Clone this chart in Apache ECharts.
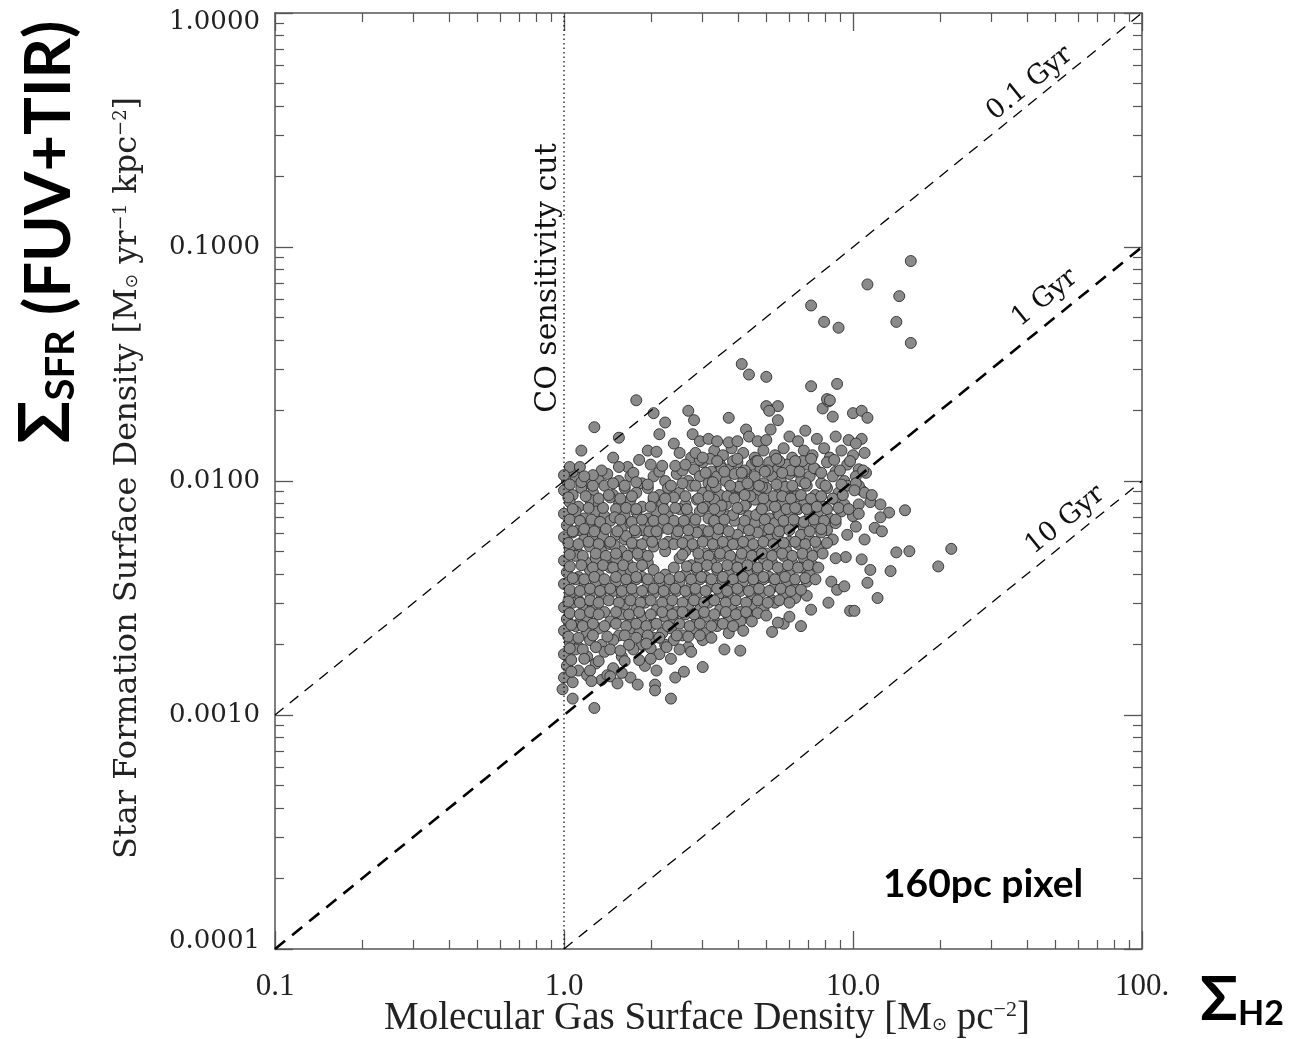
<!DOCTYPE html>
<html>
<head>
<meta charset="utf-8">
<script src="https://cdn.jsdelivr.net/npm/echarts@6/dist/echarts.min.js"></script>
<style>
  html, body { margin: 0; padding: 0; background: #fff; }
  #main { width: 1290px; height: 1039px; }
</style>
</head>
<body>
<div id="main"></div>
<script>
// pixels, stored as [log10 gas, log10 SFR]
const outliers = [
  [1.20,-1.06],[1.05,-1.16],[1.16,-1.21],[1.15,-1.32],[1.20,-1.41],[0.855,-1.25],[0.90,-1.32],[0.95,-1.345],
  [0.615,-1.50],[0.64,-1.545],[0.70,-1.555],[0.855,-1.595],[0.945,-1.585],[0.91,-1.65],[0.92,-1.655],[0.25,-1.655]
];
const edges = [
  [0.31,-1.71],[0.43,-1.70],[0.45,-1.74],[0.35,-1.75],[0.57,-1.73],[0.105,-1.77],[0.33,-1.80],[0.38,-1.84],
  [0.19,-1.815],[0.445,-1.80],[0.47,-1.83],[0.50,-1.82],[0.53,-1.83],[0.57,-1.835],[0.60,-1.83],[0.63,-1.78],
  [0.64,-1.81],[0.06,-1.87],[0.02,-1.94],[0.055,-1.94],[0.0,-1.975],[0.17,-1.90],[0.19,-1.94],[0.29,-1.87],
  [0.32,-1.875],[0.26,-1.91],[0.455,-1.88],[0.48,-1.90],[0.34,-1.935],[0.385,-1.935],[0.42,-1.93],[0.10,-1.975],
  [0.07,-1.98],
  [0.70,-1.68],[0.74,-1.68],[0.71,-1.70],[0.895,-1.69],[0.915,-1.66],[0.93,-1.725],[1.0,-1.71],[1.03,-1.70],
  [1.05,-1.73],[0.74,-1.74],[0.715,-1.78],[0.835,-1.785],[0.78,-1.81],[0.81,-1.83],[0.875,-1.82],[0.94,-1.81],
  [0.985,-1.825],[1.03,-1.82],[1.01,-1.84],[0.67,-1.83],[0.70,-1.825],[1.035,-1.955],[1.04,-2.05],[1.065,-2.06],
  [1.01,-2.01],[1.005,-2.04],[1.095,-2.10],[1.125,-2.135],[1.095,-2.155],[1.18,-2.125],[1.02,-2.10],[1.02,-2.14],
  [1.075,-2.20],[1.10,-2.215],[1.01,-2.195],[0.98,-2.23],[1.04,-2.25],[1.15,-2.305],[1.195,-2.30],[1.34,-2.29],
  [1.295,-2.365],[1.06,-2.38],[1.13,-2.385],[1.03,-2.335],[0.975,-2.325],[0.94,-2.33],[1.05,-2.435],[1.085,-2.50],
  [0.925,-2.43],[0.945,-2.465],[0.97,-2.45],[0.99,-2.555],[1.005,-2.555],[0.915,-2.52],[0.855,-2.55],[0.82,-2.62],
  [0.72,-2.645],[0.76,-2.61],[0.74,-2.605],[0.70,-2.575],[0.78,-2.58],[0.65,-2.60],
  [-0.005,-2.89],[0.03,-2.93],[0.105,-2.97],[0.095,-2.855],[0.15,-2.83],[0.16,-2.835],[0.185,-2.865],[0.255,-2.87],
  [0.315,-2.87],[0.315,-2.895],[0.37,-2.93],[0.385,-2.84],[0.415,-2.815],[0.48,-2.795],[0.61,-2.725],[0.555,-2.72],
  [0.195,-2.725],[0.225,-2.70],[0.285,-2.695]
];
const cloud = [
  [0.40,-1.88],[0.44,-1.90],[0.52,-1.87],[0.55,-1.89],[0.58,-1.86],[0.62,-1.88],[0.66,-1.90],[0.69,-1.87],[0.73,-1.89],[0.76,-1.86],[0.79,-1.90],[0.83,-1.87],[0.86,-1.89],[0.90,-1.86],[0.92,-1.90],[0.96,-1.87],[1.0,-1.89],[1.04,-1.88],
  [0.22,-1.94],[0.30,-1.93],[0.45,-1.95],[0.48,-1.92],[0.51,-1.96],[0.54,-1.93],[0.57,-1.95],[0.60,-1.92],[0.63,-1.96],[0.65,-1.93],[0.68,-1.95],[0.71,-1.92],[0.74,-1.95],[0.77,-1.93],[0.80,-1.96],[0.84,-1.93],[0.87,-1.95],[0.91,-1.92],[0.94,-1.96],[0.98,-1.93],[1.02,-1.95],
  [0.01,-2.00],[0.04,-1.98],[0.08,-2.01],[0.12,-1.99],[0.15,-1.97],[0.19,-2.00],[0.23,-1.98],[0.27,-2.01],[0.31,-1.98],[0.35,-2.00],[0.39,-1.97],[0.43,-2.00],[0.47,-1.98],[0.50,-2.01],[0.53,-1.98],[0.56,-2.00],[0.59,-1.97],[0.62,-2.00],[0.66,-1.98],[0.69,-2.01],[0.72,-1.98],[0.75,-2.00],[0.78,-1.97],[0.82,-2.00],[0.85,-1.98],[0.89,-2.01],[0.93,-1.98],[0.97,-2.00],[1.01,-1.98],
  [0.0,-2.04],[0.03,-2.06],[0.06,-2.03],[0.10,-2.05],[0.14,-2.02],[0.17,-2.06],[0.21,-2.03],[0.25,-2.05],[0.29,-2.03],[0.33,-2.06],[0.36,-2.03],[0.40,-2.05],[0.44,-2.02],[0.48,-2.05],[0.51,-2.03],[0.54,-2.06],[0.58,-2.03],[0.61,-2.05],[0.64,-2.02],[0.67,-2.05],[0.70,-2.03],[0.74,-2.06],[0.77,-2.03],[0.80,-2.05],[0.84,-2.02],[0.87,-2.06],[0.91,-2.03],[0.95,-2.05],[0.98,-2.02],[1.03,-2.04],
  [0.02,-2.09],[0.05,-2.11],[0.09,-2.08],[0.12,-2.10],[0.16,-2.07],[0.19,-2.10],[0.23,-2.08],[0.27,-2.11],[0.31,-2.08],[0.34,-2.10],[0.38,-2.07],[0.42,-2.10],[0.46,-2.08],[0.49,-2.11],[0.52,-2.08],[0.56,-2.10],[0.59,-2.07],[0.63,-2.10],[0.66,-2.08],[0.69,-2.11],[0.72,-2.08],[0.76,-2.10],[0.79,-2.07],[0.83,-2.10],[0.86,-2.08],[0.90,-2.11],[0.94,-2.08],[0.97,-2.10],[1.06,-2.09],
  [0.0,-2.14],[0.04,-2.13],[0.07,-2.16],[0.11,-2.13],[0.14,-2.15],[0.18,-2.12],[0.21,-2.15],[0.25,-2.13],[0.29,-2.16],[0.32,-2.13],[0.36,-2.15],[0.40,-2.12],[0.43,-2.15],[0.47,-2.13],[0.50,-2.16],[0.54,-2.13],[0.57,-2.15],[0.61,-2.12],[0.64,-2.15],[0.68,-2.13],[0.71,-2.16],[0.74,-2.13],[0.78,-2.15],[0.81,-2.12],[0.85,-2.15],[0.88,-2.13],[0.92,-2.16],[0.96,-2.13],[1.0,-2.15],
  [0.01,-2.19],[0.05,-2.21],[0.09,-2.18],[0.12,-2.20],[0.16,-2.17],[0.20,-2.20],[0.23,-2.18],[0.27,-2.21],[0.30,-2.18],[0.34,-2.20],[0.38,-2.17],[0.41,-2.20],[0.45,-2.18],[0.48,-2.21],[0.52,-2.18],[0.55,-2.20],[0.59,-2.17],[0.62,-2.20],[0.66,-2.18],[0.69,-2.21],[0.73,-2.18],[0.76,-2.20],[0.80,-2.17],[0.83,-2.20],[0.87,-2.18],[0.91,-2.21],[0.94,-2.18],
  [0.0,-2.24],[0.03,-2.22],[0.07,-2.25],[0.10,-2.23],[0.14,-2.26],[0.18,-2.23],[0.21,-2.25],[0.25,-2.22],[0.29,-2.25],[0.32,-2.23],[0.36,-2.26],[0.39,-2.23],[0.43,-2.25],[0.46,-2.22],[0.50,-2.25],[0.53,-2.23],[0.57,-2.26],[0.60,-2.23],[0.64,-2.25],[0.67,-2.22],[0.71,-2.25],[0.74,-2.23],[0.78,-2.26],[0.82,-2.23],[0.85,-2.25],[0.89,-2.22],[0.93,-2.25],
  [0.02,-2.29],[0.05,-2.31],[0.09,-2.28],[0.13,-2.30],[0.16,-2.27],[0.20,-2.30],[0.24,-2.28],[0.27,-2.31],[0.31,-2.28],[0.35,-2.30],[0.38,-2.27],[0.42,-2.30],[0.45,-2.28],[0.49,-2.31],[0.52,-2.28],[0.56,-2.30],[0.60,-2.27],[0.63,-2.30],[0.67,-2.28],[0.70,-2.31],[0.74,-2.28],[0.77,-2.30],[0.81,-2.27],[0.84,-2.30],[0.88,-2.28],
  [0.0,-2.34],[0.04,-2.32],[0.08,-2.35],[0.11,-2.33],[0.15,-2.36],[0.18,-2.33],[0.22,-2.35],[0.26,-2.32],[0.29,-2.35],[0.40,-2.33],[0.44,-2.36],[0.47,-2.33],[0.51,-2.35],[0.54,-2.32],[0.58,-2.35],[0.61,-2.33],[0.65,-2.36],[0.69,-2.33],[0.72,-2.35],[0.76,-2.32],[0.79,-2.35],[0.83,-2.33],[0.86,-2.36],
  [0.01,-2.39],[0.05,-2.41],[0.09,-2.38],[0.12,-2.40],[0.16,-2.37],[0.20,-2.40],[0.23,-2.38],[0.27,-2.41],[0.31,-2.38],[0.35,-2.40],[0.38,-2.37],[0.42,-2.40],[0.46,-2.38],[0.49,-2.41],[0.53,-2.38],[0.57,-2.40],[0.60,-2.37],[0.64,-2.40],[0.67,-2.38],[0.71,-2.41],[0.75,-2.38],[0.78,-2.40],[0.82,-2.37],[0.85,-2.40],
  [0.0,-2.44],[0.04,-2.42],[0.07,-2.45],[0.11,-2.43],[0.14,-2.46],[0.18,-2.43],[0.22,-2.45],[0.25,-2.42],[0.29,-2.45],[0.33,-2.43],[0.36,-2.46],[0.40,-2.43],[0.44,-2.45],[0.47,-2.42],[0.51,-2.45],[0.55,-2.43],[0.58,-2.46],[0.62,-2.43],[0.66,-2.45],[0.69,-2.42],[0.73,-2.45],[0.77,-2.43],[0.80,-2.46],[0.84,-2.43],
  [0.02,-2.49],[0.05,-2.51],[0.09,-2.48],[0.13,-2.50],[0.17,-2.47],[0.20,-2.50],[0.24,-2.48],[0.28,-2.51],[0.31,-2.48],[0.35,-2.50],[0.39,-2.47],[0.43,-2.50],[0.46,-2.48],[0.50,-2.51],[0.54,-2.48],[0.57,-2.50],[0.61,-2.47],[0.65,-2.50],[0.68,-2.48],[0.72,-2.51],[0.76,-2.48],[0.80,-2.50],[0.84,-2.49],
  [0.0,-2.54],[0.03,-2.52],[0.07,-2.55],[0.10,-2.53],[0.14,-2.56],[0.21,-2.53],[0.25,-2.55],[0.28,-2.52],[0.32,-2.55],[0.36,-2.53],[0.39,-2.56],[0.43,-2.53],[0.47,-2.55],[0.50,-2.52],[0.54,-2.55],[0.58,-2.53],[0.61,-2.56],[0.65,-2.53],[0.69,-2.55],[0.73,-2.52],
  [0.01,-2.59],[0.05,-2.61],[0.08,-2.58],[0.16,-2.60],[0.20,-2.57],[0.23,-2.60],[0.27,-2.58],[0.31,-2.61],[0.35,-2.58],[0.38,-2.60],[0.42,-2.57],[0.46,-2.60],[0.49,-2.58],[0.53,-2.61],[0.57,-2.58],[0.61,-2.60],[0.64,-2.57],
  [0.0,-2.64],[0.04,-2.62],[0.08,-2.65],[0.12,-2.63],[0.19,-2.66],[0.23,-2.63],[0.26,-2.65],[0.30,-2.62],[0.34,-2.65],[0.37,-2.63],[0.41,-2.66],[0.45,-2.63],[0.49,-2.65],[0.53,-2.62],[0.57,-2.65],[0.62,-2.64],
  [0.02,-2.69],[0.05,-2.71],[0.09,-2.68],[0.13,-2.70],[0.17,-2.68],[0.27,-2.70],[0.31,-2.67],[0.35,-2.70],[0.38,-2.68],[0.43,-2.71],[0.48,-2.68],
  [0.0,-2.74],[0.04,-2.72],[0.08,-2.75],[0.14,-2.73],[0.20,-2.75],[0.24,-2.72],[0.33,-2.74],[0.37,-2.76],[0.44,-2.73],
  [0.01,-2.79],[0.05,-2.81],[0.11,-2.78],[0.17,-2.80],[0.21,-2.77],[0.28,-2.79],[0.32,-2.81],
  [0.0,-2.84],[0.03,-2.86],[0.08,-2.83],[0.13,-2.85],[0.23,-2.84]
];
// second, interleaved layer where the pixels pile up
const cloudFill = [
  [0.505,-1.905],[0.545,-1.945],[0.585,-1.915],[0.625,-1.955],[0.665,-1.915],[0.705,-1.955],[0.745,-1.915],[0.785,-1.955],[0.825,-1.915],[0.865,-1.945],
  [0.525,-2.025],[0.565,-2.065],[0.605,-2.025],[0.645,-2.065],[0.685,-2.025],[0.725,-2.065],[0.765,-2.025],[0.805,-2.065],
  [0.545,-2.105],[0.585,-2.145],[0.625,-2.105],[0.665,-2.145],[0.705,-2.105],[0.745,-2.145],
  [0.135,-2.115],[0.175,-2.155],[0.215,-2.115],[0.255,-2.155],[0.135,-2.235],[0.175,-2.275],[0.215,-2.235],[0.255,-2.275],[0.295,-2.215],
  [0.47,-1.91],[0.53,-1.915],[0.60,-1.905],[0.67,-1.915],[0.735,-1.905],[0.80,-1.915],[0.855,-1.905],[0.935,-1.91],[0.99,-1.915],
  [0.03,-1.96],[0.13,-1.955],[0.24,-1.965],[0.33,-1.96],[0.41,-1.955],[0.49,-1.965],[0.555,-1.96],[0.615,-1.965],[0.695,-1.96],[0.755,-1.965],[0.815,-1.96],[0.89,-1.965],[0.955,-1.955],[1.045,-1.965],
  [0.02,-2.015],[0.06,-2.005],[0.10,-2.02],[0.17,-2.01],[0.21,-2.02],[0.25,-2.005],[0.29,-2.015],[0.37,-2.02],[0.41,-2.01],[0.455,-2.02],[0.515,-2.005],[0.575,-2.02],[0.635,-2.01],[0.675,-2.02],[0.735,-2.015],[0.79,-2.02],[0.835,-2.01],[0.905,-2.02],[0.96,-2.015],[1.02,-2.02],
  [0.015,-2.07],[0.075,-2.065],[0.12,-2.075],[0.155,-2.06],[0.195,-2.075],[0.235,-2.065],[0.31,-2.07],[0.35,-2.075],[0.42,-2.065],[0.465,-2.075],[0.50,-2.065],[0.59,-2.075],[0.625,-2.06],[0.69,-2.075],[0.755,-2.065],[0.785,-2.075],[0.82,-2.06],[0.855,-2.075],[0.89,-2.065],[0.93,-2.075],[0.965,-2.06],
  [0.03,-2.12],[0.085,-2.115],[0.25,-2.12],[0.30,-2.11],[0.345,-2.12],[0.385,-2.115],[0.425,-2.12],[0.48,-2.115],[0.52,-2.12],[0.60,-2.115],[0.685,-2.12],[0.73,-2.11],[0.77,-2.12],[0.80,-2.115],[0.84,-2.12],[0.875,-2.11],[0.91,-2.12],[0.95,-2.115],[0.985,-2.12],
  [0.02,-2.165],[0.055,-2.17],[0.095,-2.165],[0.125,-2.175],[0.195,-2.165],[0.235,-2.175],[0.27,-2.165],[0.31,-2.17],[0.345,-2.165],[0.415,-2.17],[0.455,-2.165],[0.52,-2.17],[0.555,-2.165],[0.625,-2.17],[0.695,-2.165],[0.76,-2.17],[0.795,-2.165],[0.83,-2.175],[0.865,-2.165],[0.90,-2.17],[0.94,-2.165],
  [0.03,-2.215],[0.07,-2.205],[0.105,-2.215],[0.145,-2.205],[0.185,-2.215],[0.245,-2.21],[0.32,-2.215],[0.36,-2.205],[0.395,-2.215],[0.43,-2.21],[0.50,-2.215],[0.535,-2.205],[0.57,-2.215],[0.64,-2.21],[0.71,-2.205],[0.745,-2.215],[0.78,-2.21],[0.85,-2.215],[0.89,-2.205],
  [0.015,-2.265],[0.05,-2.27],[0.085,-2.26],[0.12,-2.27],[0.16,-2.26],[0.235,-2.265],[0.27,-2.27],[0.305,-2.26],[0.345,-2.27],[0.41,-2.265],[0.445,-2.27],[0.48,-2.26],[0.515,-2.27],[0.55,-2.26],[0.585,-2.27],[0.62,-2.26],[0.655,-2.27],[0.69,-2.26],[0.725,-2.27],[0.76,-2.265],[0.80,-2.26],[0.835,-2.27],[0.87,-2.26],[0.91,-2.265],
  [0.02,-2.315],[0.065,-2.32],[0.11,-2.31],[0.145,-2.32],[0.18,-2.31],[0.22,-2.32],[0.255,-2.31],[0.29,-2.32],[0.41,-2.315],[0.465,-2.31],[0.50,-2.32],[0.54,-2.31],[0.575,-2.32],[0.615,-2.31],[0.65,-2.32],[0.685,-2.31],[0.72,-2.32],[0.755,-2.31],[0.79,-2.32],[0.825,-2.31],[0.86,-2.32],[0.895,-2.31],
  [0.02,-2.365],[0.06,-2.36],[0.10,-2.37],[0.135,-2.36],[0.17,-2.37],[0.205,-2.36],[0.24,-2.37],[0.27,-2.36],[0.425,-2.365],[0.46,-2.37],[0.495,-2.36],[0.53,-2.37],[0.565,-2.36],[0.60,-2.37],[0.635,-2.36],[0.67,-2.37],[0.705,-2.36],[0.74,-2.37],[0.775,-2.36],[0.81,-2.37],[0.845,-2.36],[0.88,-2.37],
  [0.03,-2.415],[0.07,-2.42],[0.105,-2.41],[0.14,-2.42],[0.18,-2.41],[0.215,-2.42],[0.25,-2.41],[0.29,-2.42],[0.33,-2.415],[0.365,-2.42],[0.40,-2.41],[0.44,-2.42],[0.475,-2.41],[0.51,-2.42],[0.55,-2.41],[0.585,-2.42],[0.62,-2.41],[0.655,-2.42],[0.69,-2.41],[0.73,-2.42],[0.765,-2.41],[0.80,-2.42],[0.835,-2.415],[0.87,-2.42],
  [0.02,-2.465],[0.055,-2.47],[0.09,-2.46],[0.125,-2.47],[0.16,-2.46],[0.20,-2.47],[0.235,-2.46],[0.27,-2.47],[0.31,-2.46],[0.345,-2.47],[0.385,-2.46],[0.42,-2.47],[0.455,-2.46],[0.49,-2.47],[0.53,-2.46],[0.565,-2.47],[0.60,-2.46],[0.64,-2.47],[0.675,-2.46],[0.71,-2.47],[0.75,-2.46],[0.785,-2.47],[0.82,-2.465],
  [0.015,-2.515],[0.055,-2.52],[0.09,-2.51],[0.12,-2.52],[0.155,-2.51],[0.19,-2.52],[0.23,-2.51],[0.265,-2.52],[0.30,-2.51],[0.34,-2.52],[0.375,-2.51],[0.41,-2.52],[0.45,-2.51],[0.485,-2.52],[0.52,-2.51],[0.56,-2.52],[0.595,-2.51],[0.63,-2.52],[0.67,-2.51],[0.705,-2.52],[0.745,-2.51],[0.78,-2.52],
  [0.02,-2.565],[0.055,-2.57],[0.09,-2.56],[0.12,-2.57],[0.18,-2.56],[0.225,-2.57],[0.26,-2.56],[0.30,-2.57],[0.34,-2.56],[0.375,-2.57],[0.41,-2.56],[0.45,-2.57],[0.485,-2.56],[0.52,-2.57],[0.56,-2.56],[0.595,-2.57],[0.63,-2.56],[0.67,-2.565],
  [0.025,-2.615],[0.065,-2.62],[0.10,-2.61],[0.14,-2.62],[0.18,-2.61],[0.215,-2.62],[0.25,-2.61],[0.285,-2.62],[0.32,-2.61],[0.36,-2.62],[0.40,-2.61],[0.435,-2.62],[0.47,-2.61],[0.51,-2.62],[0.55,-2.61],[0.585,-2.62],
  [0.015,-2.665],[0.05,-2.67],[0.10,-2.66],[0.15,-2.665],[0.21,-2.66],[0.25,-2.67],[0.29,-2.66],[0.33,-2.67],[0.39,-2.66],[0.43,-2.665],[0.47,-2.66],[0.51,-2.67],
  [0.02,-2.715],[0.065,-2.72],[0.11,-2.71],[0.16,-2.72],[0.30,-2.715],[0.355,-2.71],[0.40,-2.72],
  [0.025,-2.765],[0.07,-2.76],[0.12,-2.77],[0.26,-2.765],[0.30,-2.76],
  [0.025,-2.815],[0.09,-2.81],[0.20,-2.82]
];

const gasLabels = ['0.1', '1.0', '10.0', '100.'];
const sfrLabels = ['0.0001', '0.0010', '0.0100', '0.1000', '1.0000'];

// depletion time lines (gas in Msun/pc^2, SFR in Msun/yr/kpc^2)
const line01Gyr = [[0.1, 0.001], [100, 1]];
const line1Gyr = [[0.1, 0.0001], [100, 0.1]];
const line10Gyr = [[1, 0.0001], [100, 0.01]];
const coCut = [[1, 0.0001], [1, 1]];

const toValues = arr => arr.map(p => [Math.pow(10, p[0]), Math.pow(10, p[1])]);

const chart = echarts.init(document.getElementById('main'));

const axisColor = '#555';
function logAxis(min, max, pos, showLabel, labels, offset, font) {
  const last = labels.length - 1;
  return {
    type: 'log',
    logBase: 10,
    min: min,
    max: max,
    position: pos,
    axisLine: { show: true, onZero: false, lineStyle: { color: axisColor, width: 1.5 } },
    axisTick: { show: true, inside: true, length: 18, lineStyle: { color: axisColor, width: 1.3 } },
    minorTick: { show: true, splitNumber: 9, length: 9, lineStyle: { color: axisColor, width: 1.2 } },
    splitLine: { show: false },
    axisLabel: {
      show: showLabel,
      margin: font.margin,
      color: '#222',
      fontFamily: font.family,
      fontSize: font.size,
      formatter: v => {
        const i = Math.round(Math.log10(v)) + offset;
        if (!font.nudge) return labels[i];
        if (i === last) return '{hi|' + labels[i] + '}';
        if (i === 0) return '{lo|' + labels[i] + '}';
        return labels[i];
      },
      rich: {
        hi: { fontFamily: font.family, fontSize: font.size, color: '#222', padding: [18, 0, 0, 0] },
        lo: { fontFamily: font.family, fontSize: font.size, color: '#222', padding: [0, 0, 16, 0] }
      }
    }
  };
}

const xFont = { family: 'Liberation Serif', size: 31, margin: 22, nudge: false };
const yFont = { family: 'DejaVu Serif', size: 26, margin: 15, nudge: true };

chart.setOption({
  backgroundColor: '#fff',
  animation: false,
  grid: { left: 275, right: 148, top: 13, bottom: 90 },
  xAxis: [
    logAxis(0.1, 100, 'bottom', true, gasLabels, 1, xFont),
    logAxis(0.1, 100, 'top', false, gasLabels, 1, xFont)
  ],
  yAxis: [
    logAxis(0.0001, 1, 'left', true, sfrLabels, 4, yFont),
    logAxis(0.0001, 1, 'right', false, sfrLabels, 4, yFont)
  ],
  series: [
    {
      type: 'scatter',
      name: 'pixels',
      data: toValues(cloud.concat(cloudFill, edges, outliers)),
      symbolSize: 11,
      itemStyle: { color: '#8a8a8a', borderColor: '#2e2e2e', borderWidth: 0.9, opacity: 1 },
      z: 2
    },
    {
      type: 'line', data: line01Gyr, symbol: 'none', z: 3,
      lineStyle: { color: '#000', width: 1.3, type: [11, 8] }
    },
    {
      type: 'line', data: line1Gyr, symbol: 'none', z: 3,
      lineStyle: { color: '#000', width: 2.6, type: [13, 9] }
    },
    {
      type: 'line', data: line10Gyr, symbol: 'none', z: 3,
      lineStyle: { color: '#000', width: 1.3, type: [11, 8] }
    },
    {
      type: 'line', data: coCut, symbol: 'none', z: 3,
      lineStyle: { color: '#000', width: 1.2, type: [1.5, 3] }
    }
  ]
});

const px = (x, y) => chart.convertToPixel({ gridIndex: 0 }, [x, y]);
const slope = Math.atan2(
  px(1, 1)[1] - px(10, 10)[1],
  px(10, 10)[0] - px(1, 1)[0]
);
const serif = 'DejaVu Serif';
const pA = px(40.9, 0.50), pB = px(46.1, 0.0605), pC = px(54.2, 0.0068);
const pCO = px(0.88, 0.0737), pPix = px(28.2, 0.000188);

function lineText(p, txt) {
  return {
    type: 'text', x: p[0], y: p[1], rotation: slope, z: 10,
    style: { text: txt, fill: '#111', font: '27px "DejaVu Serif"', align: 'center', verticalAlign: 'middle' }
  };
}

chart.setOption({
  graphic: [
    lineText(pA, '0.1 Gyr'),
    lineText(pB, '1 Gyr'),
    lineText(pC, '10 Gyr'),
    {
      type: 'text', x: pCO[0], y: pCO[1], rotation: Math.PI / 2, z: 10,
      style: { text: 'CO sensitivity cut', fill: '#111', font: '30px "DejaVu Serif"', align: 'center', verticalAlign: 'middle' }
    },
    {
      type: 'text', x: pPix[0], y: pPix[1], z: 10,
      style: { text: '160pc pixel', fill: '#000', font: 'bold 39px Lato', align: 'center', verticalAlign: 'middle' }
    },
    {
      type: 'text', x: 707, y: 1019, z: 10,
      style: {
        text: '{t|Molecular Gas Surface Density [M}{sub|⊙}{t| pc}{sup|−2}{t|]}',
        align: 'center', verticalAlign: 'middle', fill: '#222',
        rich: {
          t: { fontFamily: 'Liberation Serif', fontSize: 39, verticalAlign: 'middle' },
          sub: { fontFamily: 'DejaVu Sans', fontSize: 18, verticalAlign: 'bottom', padding: [0, 0, 4, 0] },
          sup: { fontFamily: 'Liberation Serif', fontSize: 22, verticalAlign: 'top' }
        }
      }
    },
    {
      type: 'text', x: 128, y: 478, rotation: Math.PI / 2, z: 10,
      style: {
        text: '{t|Star Formation Surface Density [M}{sub|⊙}{t| yr}{sup|−1}{t| kpc}{sup|−2}{t|]}',
        align: 'center', verticalAlign: 'middle', fill: '#222',
        rich: {
          t: { fontFamily: serif, fontSize: 32, verticalAlign: 'middle' },
          sub: { fontFamily: 'DejaVu Sans', fontSize: 17, verticalAlign: 'bottom', padding: [0, 0, 3, 0] },
          sup: { fontFamily: serif, fontSize: 18, verticalAlign: 'top' }
        }
      }
    },
    {
      type: 'text', x: 46, y: 232, rotation: Math.PI / 2, z: 10,
      style: {
        text: '{s|Σ}{b|SFR}{p| (FUV+TIR)}',
        align: 'center', verticalAlign: 'middle', fill: '#000',
        rich: {
          s: { fontFamily: 'Lato', fontWeight: 'bold', fontSize: 70, verticalAlign: 'bottom' },
          b: { fontFamily: 'Lato', fontWeight: 'bold', fontSize: 40, verticalAlign: 'bottom' },
          p: { fontFamily: 'Lato', fontWeight: 'bold', fontSize: 63, verticalAlign: 'bottom' }
        }
      }
    },
    {
      type: 'text', x: 1242, y: 1000, z: 10,
      style: {
        text: '{s|Σ}{b|H2}',
        align: 'center', verticalAlign: 'middle', fill: '#000',
        rich: {
          s: { fontFamily: 'Lato', fontWeight: 'bold', fontSize: 62, verticalAlign: 'bottom' },
          b: { fontFamily: 'Lato', fontWeight: 'bold', fontSize: 34, verticalAlign: 'bottom' }
        }
      }
    }
  ]
});
</script>
</body>
</html>
